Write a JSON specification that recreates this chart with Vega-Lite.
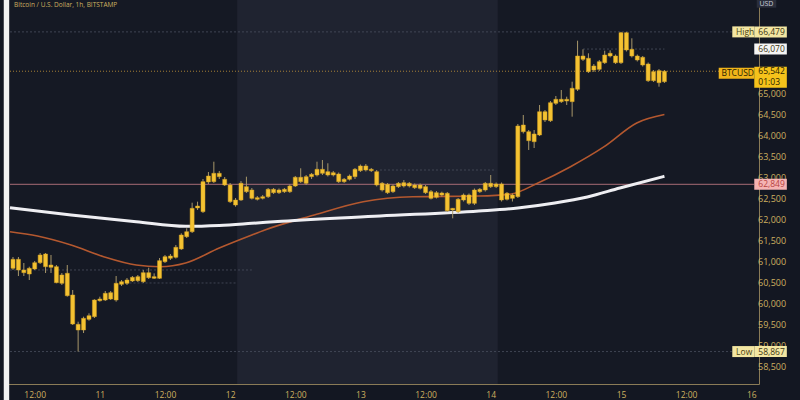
{
  "$schema": "https://vega.github.io/schema/vega-lite/v6.json",
  "width": 754,
  "height": 384,
  "autosize": {"type": "none"},
  "padding": {"left": 5, "top": 0, "right": 41, "bottom": 16},
  "background": "#131722",
  "config": {"view": {"stroke": null, "fill": "#151924"}, "font": "Open Sans"},
  "data": {"values": [{"one": 1}]},
  "datasets": {
    "candles": [
      {"t":8,"o":60850,"hi":61119,"lo":60809,"c":61064},
      {"t":9,"o":61064,"hi":61119,"lo":60666,"c":60809},
      {"t":10,"o":60809,"hi":60976,"lo":60666,"c":60745},
      {"t":11,"o":60714,"hi":60888,"lo":60571,"c":60850},
      {"t":12,"o":60833,"hi":61024,"lo":60809,"c":60983},
      {"t":13,"o":60983,"hi":61214,"lo":60952,"c":61167},
      {"t":14,"o":61190,"hi":61214,"lo":60738,"c":60888},
      {"t":15,"o":60928,"hi":61167,"lo":60738,"c":60874},
      {"t":16,"o":60888,"hi":60928,"lo":60493,"c":60507},
      {"t":17,"o":60493,"hi":60738,"lo":60452,"c":60690},
      {"t":18,"o":60731,"hi":60928,"lo":60174,"c":60197},
      {"t":19,"o":60214,"hi":60333,"lo":59500,"c":59524},
      {"t":20,"o":59516,"hi":59578,"lo":58867,"c":59381},
      {"t":21,"o":59381,"hi":59698,"lo":59309,"c":59659},
      {"t":22,"o":59635,"hi":59778,"lo":59602,"c":59721},
      {"t":23,"o":59698,"hi":60112,"lo":59666,"c":60095},
      {"t":24,"o":60078,"hi":60174,"lo":60055,"c":60119},
      {"t":25,"o":60095,"hi":60309,"lo":60071,"c":60255},
      {"t":26,"o":60269,"hi":60309,"lo":60095,"c":60119},
      {"t":27,"o":60095,"hi":60666,"lo":60055,"c":60493},
      {"t":28,"o":60469,"hi":60571,"lo":60428,"c":60531},
      {"t":29,"o":60493,"hi":60619,"lo":60452,"c":60571},
      {"t":30,"o":60548,"hi":60666,"lo":60524,"c":60635},
      {"t":31,"o":60555,"hi":60690,"lo":60524,"c":60650},
      {"t":32,"o":60531,"hi":60809,"lo":60500,"c":60745},
      {"t":33,"o":60745,"hi":60864,"lo":60595,"c":60626},
      {"t":34,"o":60650,"hi":60730,"lo":60595,"c":60612},
      {"t":35,"o":60612,"hi":61095,"lo":60595,"c":61031},
      {"t":36,"o":61007,"hi":61167,"lo":60976,"c":61126},
      {"t":37,"o":61088,"hi":61190,"lo":61048,"c":61143},
      {"t":38,"o":61112,"hi":61405,"lo":61083,"c":61350},
      {"t":39,"o":61310,"hi":61683,"lo":61286,"c":61643},
      {"t":40,"o":61602,"hi":61802,"lo":61571,"c":61721},
      {"t":41,"o":61721,"hi":62412,"lo":61690,"c":62278},
      {"t":42,"o":62286,"hi":62436,"lo":62238,"c":62333},
      {"t":43,"o":62198,"hi":62976,"lo":62167,"c":62912},
      {"t":44,"o":62905,"hi":63143,"lo":62857,"c":63047},
      {"t":45,"o":62912,"hi":63388,"lo":62881,"c":63112},
      {"t":46,"o":63112,"hi":63167,"lo":62976,"c":63031},
      {"t":47,"o":62969,"hi":63024,"lo":62810,"c":62833},
      {"t":48,"o":62833,"hi":62881,"lo":62405,"c":62436},
      {"t":49,"o":62476,"hi":62524,"lo":62317,"c":62357},
      {"t":50,"o":62476,"hi":62928,"lo":62452,"c":62874},
      {"t":51,"o":62793,"hi":63031,"lo":62643,"c":62674},
      {"t":52,"o":62714,"hi":62762,"lo":62488,"c":62516},
      {"t":53,"o":62531,"hi":62571,"lo":62464,"c":62493},
      {"t":54,"o":62516,"hi":62595,"lo":62488,"c":62555},
      {"t":55,"o":62555,"hi":62762,"lo":62524,"c":62731},
      {"t":56,"o":62731,"hi":62762,"lo":62619,"c":62650},
      {"t":57,"o":62650,"hi":62750,"lo":62619,"c":62714},
      {"t":58,"o":62674,"hi":62762,"lo":62643,"c":62731},
      {"t":59,"o":62674,"hi":62845,"lo":62643,"c":62809},
      {"t":60,"o":62809,"hi":63048,"lo":62786,"c":63017},
      {"t":61,"o":63017,"hi":63231,"lo":62881,"c":62912},
      {"t":62,"o":62874,"hi":63071,"lo":62833,"c":63031},
      {"t":63,"o":63031,"hi":63119,"lo":62976,"c":63088},
      {"t":64,"o":63071,"hi":63388,"lo":63036,"c":63207},
      {"t":65,"o":63207,"hi":63428,"lo":63071,"c":63112},
      {"t":66,"o":63150,"hi":63350,"lo":63036,"c":63071},
      {"t":67,"o":63071,"hi":63167,"lo":63036,"c":63126},
      {"t":68,"o":63095,"hi":63131,"lo":62881,"c":62912},
      {"t":69,"o":62912,"hi":63000,"lo":62881,"c":62969},
      {"t":70,"o":62969,"hi":63083,"lo":62940,"c":63047},
      {"t":71,"o":63031,"hi":63238,"lo":62976,"c":63207},
      {"t":72,"o":63174,"hi":63321,"lo":63143,"c":63286},
      {"t":73,"o":63286,"hi":63333,"lo":63155,"c":63190},
      {"t":74,"o":63207,"hi":63238,"lo":63143,"c":63174},
      {"t":75,"o":63150,"hi":63190,"lo":62798,"c":62833},
      {"t":76,"o":62874,"hi":62905,"lo":62678,"c":62714},
      {"t":77,"o":62850,"hi":62881,"lo":62619,"c":62650},
      {"t":78,"o":62674,"hi":62845,"lo":62643,"c":62809},
      {"t":79,"o":62793,"hi":62905,"lo":62762,"c":62874},
      {"t":80,"o":62888,"hi":62952,"lo":62774,"c":62809},
      {"t":81,"o":62809,"hi":62905,"lo":62774,"c":62874},
      {"t":82,"o":62833,"hi":62869,"lo":62738,"c":62769},
      {"t":83,"o":62833,"hi":62869,"lo":62726,"c":62755},
      {"t":84,"o":62793,"hi":62833,"lo":62619,"c":62650},
      {"t":85,"o":62674,"hi":62714,"lo":62488,"c":62516},
      {"t":86,"o":62540,"hi":62690,"lo":62512,"c":62650},
      {"t":87,"o":62643,"hi":62674,"lo":62555,"c":62595},
      {"t":88,"o":62636,"hi":62667,"lo":62190,"c":62221},
      {"t":89,"o":62238,"hi":62286,"lo":62040,"c":62278},
      {"t":90,"o":62198,"hi":62524,"lo":62167,"c":62493},
      {"t":91,"o":62476,"hi":62631,"lo":62440,"c":62595},
      {"t":92,"o":62595,"hi":62631,"lo":62357,"c":62397},
      {"t":93,"o":62397,"hi":62750,"lo":62357,"c":62714},
      {"t":94,"o":62674,"hi":62762,"lo":62643,"c":62731},
      {"t":95,"o":62714,"hi":62905,"lo":62678,"c":62874},
      {"t":96,"o":62874,"hi":63071,"lo":62762,"c":62793},
      {"t":97,"o":62793,"hi":62893,"lo":62762,"c":62857},
      {"t":98,"o":62857,"hi":62893,"lo":62440,"c":62476},
      {"t":99,"o":62493,"hi":62667,"lo":62464,"c":62636},
      {"t":100,"o":62595,"hi":62631,"lo":62440,"c":62516},
      {"t":101,"o":62555,"hi":64286,"lo":62524,"c":64238},
      {"t":102,"o":64262,"hi":64500,"lo":64060,"c":64102},
      {"t":103,"o":64102,"hi":64143,"lo":63667,"c":63888},
      {"t":104,"o":64048,"hi":64143,"lo":63714,"c":63864},
      {"t":105,"o":64024,"hi":64738,"lo":64000,"c":64578},
      {"t":106,"o":64578,"hi":64619,"lo":64333,"c":64381},
      {"t":107,"o":64364,"hi":64833,"lo":64333,"c":64793},
      {"t":108,"o":64778,"hi":64952,"lo":64738,"c":64874},
      {"t":109,"o":64874,"hi":65095,"lo":64786,"c":64817},
      {"t":110,"o":64833,"hi":64936,"lo":64738,"c":64874},
      {"t":111,"o":64817,"hi":65293,"lo":64460,"c":65136},
      {"t":112,"o":65112,"hi":66269,"lo":65071,"c":65905},
      {"t":113,"o":65905,"hi":66064,"lo":65786,"c":65826},
      {"t":114,"o":65850,"hi":65969,"lo":65500,"c":65531},
      {"t":115,"o":65571,"hi":65714,"lo":65524,"c":65667},
      {"t":116,"o":65588,"hi":65810,"lo":65548,"c":65769},
      {"t":117,"o":65745,"hi":66031,"lo":65714,"c":65928},
      {"t":118,"o":65905,"hi":66040,"lo":65869,"c":65969},
      {"t":119,"o":65905,"hi":65940,"lo":65714,"c":65745},
      {"t":120,"o":65745,"hi":66479,"lo":65714,"c":66459},
      {"t":121,"o":66459,"hi":66479,"lo":66012,"c":66048},
      {"t":122,"o":66064,"hi":66326,"lo":65869,"c":65905},
      {"t":123,"o":65905,"hi":65940,"lo":65774,"c":65810},
      {"t":124,"o":65874,"hi":65905,"lo":65655,"c":65690},
      {"t":125,"o":65714,"hi":65750,"lo":65286,"c":65317},
      {"t":126,"o":65317,"hi":65571,"lo":65286,"c":65531},
      {"t":127,"o":65555,"hi":65595,"lo":65174,"c":65269},
      {"t":128,"o":65293,"hi":65571,"lo":65262,"c":65542}
    ],
    "maSlow": [
      {"t":7.45,"v":62293},{"t":18.7,"v":62119},{"t":30.7,"v":61960},{"t":39.8,"v":61850},
      {"t":46,"v":61870},{"t":52,"v":61920},{"t":57.5,"v":61970},{"t":75.6,"v":62095},
      {"t":93.8,"v":62214},{"t":101,"v":62286},{"t":107.8,"v":62405},{"t":113.8,"v":62548},
      {"t":119.8,"v":62762},{"t":128,"v":63040}
    ],
    "maFast": [
      {"t":7.45,"v":61721},{"t":12.5,"v":61619},{"t":18.7,"v":61405},{"t":24.7,"v":61126},
      {"t":30.7,"v":60928},{"t":35.1,"v":60888},{"t":39.8,"v":60976},{"t":46,"v":61333},
      {"t":52,"v":61643},{"t":54.4,"v":61762},{"t":63.5,"v":62119},{"t":72.5,"v":62436},
      {"t":81.6,"v":62555},{"t":93.8,"v":62571},{"t":99.8,"v":62620},{"t":104.7,"v":62881},
      {"t":110.7,"v":63269},{"t":116.9,"v":63745},{"t":122.9,"v":64310},{"t":128,"v":64510}
    ],
    "faint": [
      {"p":66479,"t0":7.45,"t1":144.5},
      {"p":66070,"t0":113,"t1":128},
      {"p":58867,"t0":7.45,"t1":144.5},
      {"p":60810,"t0":7.45,"t1":52},
      {"p":60500,"t0":28,"t1":49},
      {"p":63190,"t0":75.6,"t1":97}
    ],
    "yticks": [
      {"p":58500},{"p":59000},{"p":59500},{"p":60000},{"p":60500},{"p":61000},{"p":61500},
      {"p":62000},{"p":62500},{"p":63000},{"p":63500},{"p":64000},{"p":64500},{"p":65000}
    ],
    "tags": [
      {"tag":"High","p":66479,"v":"66,479"},
      {"tag":"Mark","p":66070,"v":"66,070"},
      {"tag":"Prev","p":62849,"v":"62,849"},
      {"tag":"Low","p":58867,"v":"58,867"}
    ]
  },
  "layer": [
    {
      "mark": {"type": "rect", "color": "#1f2330"},
      "encoding": {
        "x": {"datum": 49.3, "type": "quantitative", "scale": {"domain": [7.45, 144.5], "nice": false, "zero": false},
          "axis": {"orient": "bottom", "values": [12, 24, 36, 48, 60, 72, 84, 96, 108, 120, 132, 144],
            "labelExpr": "datum.value % 24 == 0 ? '' + (10 + datum.value / 24) : '12:00'",
            "title": null, "grid": false, "ticks": false, "domainColor": "#8a7b57",
            "labelColor": "#cdb060", "labelFontSize": 8.5, "labelPadding": 6, "labelFlush": false, "labelFont": "Open Sans"}},
        "x2": {"datum": 97.3},
        "y": {"datum": 67238, "type": "quantitative", "scale": {"domain": [58095, 67238], "nice": false, "zero": false},
          "axis": {"orient": "right", "values": [60000], "labels": false,
            "title": null, "grid": false, "ticks": false, "domainColor": "#8a7b57"}},
        "y2": {"datum": 58095}
      }
    },
    {
      "mark": {"type": "rect", "color": "#f2f2f2", "clip": false},
      "encoding": {
        "x": {"datum": 6.3, "type": "quantitative", "scale": {"domain": [7.45, 144.5], "nice": false, "zero": false}},
        "x2": {"datum": 7.3},
        "y": {"datum": 67400, "type": "quantitative", "scale": {"domain": [58095, 67238], "nice": false, "zero": false}},
        "y2": {"datum": 57600}
      }
    },
    {
      "data": {"name": "yticks"},
      "mark": {"type": "text", "align": "left", "baseline": "middle", "fontSize": 9, "font": "Open Sans", "color": "#cdb060", "clip": false},
      "encoding": {
        "x": {"datum": 145.25, "type": "quantitative", "scale": {"domain": [7.45, 144.5], "nice": false, "zero": false}},
        "y": {"field": "p", "type": "quantitative", "scale": {"domain": [58095, 67238], "nice": false, "zero": false}},
        "text": {"field": "p", "type": "quantitative", "format": ",d"}
      }
    },
    {
      "data": {"name": "faint"},
      "mark": {"type": "rule", "color": "#4a4f5e", "strokeWidth": 1, "strokeDash": [2, 2], "opacity": 0.8},
      "encoding": {
        "x": {"field": "t0", "type": "quantitative", "scale": {"domain": [7.45, 144.5], "nice": false, "zero": false}},
        "x2": {"field": "t1"},
        "y": {"field": "p", "type": "quantitative", "scale": {"domain": [58095, 67238], "nice": false, "zero": false}}
      }
    },
    {
      "mark": {"type": "rule", "color": "#b0707a", "strokeWidth": 1.2, "opacity": 0.75},
      "encoding": {
        "x": {"datum": 7.45, "type": "quantitative", "scale": {"domain": [7.45, 144.5], "nice": false, "zero": false}},
        "x2": {"datum": 144.5},
        "y": {"datum": 62849, "type": "quantitative", "scale": {"domain": [58095, 67238], "nice": false, "zero": false}}
      }
    },
    {
      "mark": {"type": "rule", "color": "#c99a3a", "strokeWidth": 1, "strokeDash": [1, 2], "opacity": 0.8},
      "encoding": {
        "x": {"datum": 7.45, "type": "quantitative", "scale": {"domain": [7.45, 144.5], "nice": false, "zero": false}},
        "x2": {"datum": 144.5},
        "y": {"datum": 65542, "type": "quantitative", "scale": {"domain": [58095, 67238], "nice": false, "zero": false}}
      }
    },
    {
      "data": {"name": "maFast"},
      "mark": {"type": "line", "color": "#b4582f", "strokeWidth": 1.6, "interpolate": "monotone"},
      "encoding": {
        "x": {"field": "t", "type": "quantitative", "scale": {"domain": [7.45, 144.5], "nice": false, "zero": false}},
        "y": {"field": "v", "type": "quantitative", "scale": {"domain": [58095, 67238], "nice": false, "zero": false}}
      }
    },
    {
      "data": {"name": "maSlow"},
      "mark": {"type": "line", "color": "#eeeef2", "strokeWidth": 3, "interpolate": "monotone"},
      "encoding": {
        "x": {"field": "t", "type": "quantitative", "scale": {"domain": [7.45, 144.5], "nice": false, "zero": false}},
        "y": {"field": "v", "type": "quantitative", "scale": {"domain": [58095, 67238], "nice": false, "zero": false}}
      }
    },
    {
      "data": {"name": "candles"},
      "mark": {"type": "rule", "color": "#a8976a", "strokeWidth": 1},
      "encoding": {
        "x": {"field": "t", "type": "quantitative", "scale": {"domain": [7.45, 144.5], "nice": false, "zero": false}},
        "y": {"field": "lo", "type": "quantitative", "scale": {"domain": [58095, 67238], "nice": false, "zero": false}},
        "y2": {"field": "hi"}
      }
    },
    {
      "data": {"name": "candles"},
      "mark": {"type": "bar", "size": 4, "color": "#f4c232", "stroke": "#d9a521", "strokeWidth": 0.5},
      "encoding": {
        "x": {"field": "t", "type": "quantitative", "scale": {"domain": [7.45, 144.5], "nice": false, "zero": false}},
        "y": {"field": "o", "type": "quantitative", "scale": {"domain": [58095, 67238], "nice": false, "zero": false}},
        "y2": {"field": "c"}
      }
    },
    {
      "data": {"name": "tags"},
      "mark": {"type": "rule", "strokeWidth": 11, "clip": false},
      "encoding": {
        "x": {"datum": 144.55, "type": "quantitative", "scale": {"domain": [7.45, 144.5], "nice": false, "zero": false}},
        "x2": {"datum": 150.55},
        "y": {"field": "p", "type": "quantitative", "scale": {"domain": [58095, 67238], "nice": false, "zero": false}},
        "color": {"condition": [{"test": "datum.tag == 'Mark'", "value": "#f4f4f4"}, {"test": "datum.tag == 'Prev'", "value": "#f5b3b3"}], "value": "#f3e6a2"}
      }
    },
    {
      "data": {"name": "tags"},
      "transform": [{"filter": "datum.tag == 'High' || datum.tag == 'Low'"}],
      "mark": {"type": "rule", "strokeWidth": 11, "color": "#f3e6a2", "clip": false},
      "encoding": {
        "x": {"datum": 140.5, "type": "quantitative", "scale": {"domain": [7.45, 144.5], "nice": false, "zero": false}},
        "x2": {"datum": 144.55},
        "y": {"field": "p", "type": "quantitative", "scale": {"domain": [58095, 67238], "nice": false, "zero": false}}
      }
    },
    {
      "mark": {"type": "rule", "strokeWidth": 11, "color": "#f0b41a", "yOffset": 2, "clip": false},
      "encoding": {
        "x": {"datum": 138.0, "type": "quantitative", "scale": {"domain": [7.45, 144.5], "nice": false, "zero": false}},
        "x2": {"datum": 144.55},
        "y": {"datum": 65542, "type": "quantitative", "scale": {"domain": [58095, 67238], "nice": false, "zero": false}}
      }
    },
    {
      "mark": {"type": "rule", "strokeWidth": 21, "color": "#f5c21b", "yOffset": 6, "clip": false},
      "encoding": {
        "x": {"datum": 144.55, "type": "quantitative", "scale": {"domain": [7.45, 144.5], "nice": false, "zero": false}},
        "x2": {"datum": 150.55},
        "y": {"datum": 65542, "type": "quantitative", "scale": {"domain": [58095, 67238], "nice": false, "zero": false}}
      }
    },
    {
      "mark": {"type": "rule", "strokeWidth": 8, "color": "#2a2e3b", "clip": false},
      "encoding": {
        "x": {"datum": 145.0, "type": "quantitative", "scale": {"domain": [7.45, 144.5], "nice": false, "zero": false}},
        "x2": {"datum": 148.6},
        "y": {"datum": 67150, "type": "quantitative", "scale": {"domain": [58095, 67238], "nice": false, "zero": false}}
      }
    },
    {
      "data": {"name": "tags"},
      "mark": {"type": "text", "align": "left", "baseline": "middle", "fontSize": 8.5, "font": "Open Sans", "clip": false},
      "encoding": {
        "x": {"datum": 145.3, "type": "quantitative", "scale": {"domain": [7.45, 144.5], "nice": false, "zero": false}},
        "y": {"field": "p", "type": "quantitative", "scale": {"domain": [58095, 67238], "nice": false, "zero": false}},
        "text": {"field": "v"},
        "color": {"condition": {"test": "datum.tag == 'Prev'", "value": "#b8433f"}, "value": "#3d3512"}
      }
    },
    {
      "data": {"name": "tags"},
      "transform": [{"filter": "datum.tag == 'High' || datum.tag == 'Low'"}],
      "mark": {"type": "text", "align": "left", "baseline": "middle", "fontSize": 8.5, "font": "Open Sans", "color": "#4a3f10", "clip": false},
      "encoding": {
        "x": {"datum": 141.2, "type": "quantitative", "scale": {"domain": [7.45, 144.5], "nice": false, "zero": false}},
        "y": {"field": "p", "type": "quantitative", "scale": {"domain": [58095, 67238], "nice": false, "zero": false}},
        "text": {"field": "tag"}
      }
    },
    {
      "mark": {"type": "text", "align": "left", "baseline": "middle", "fontSize": 8.5, "font": "Open Sans", "color": "#2a2200", "yOffset": 2, "clip": false},
      "encoding": {
        "x": {"datum": 138.5, "type": "quantitative", "scale": {"domain": [7.45, 144.5], "nice": false, "zero": false}},
        "y": {"datum": 65542, "type": "quantitative", "scale": {"domain": [58095, 67238], "nice": false, "zero": false}},
        "text": {"value": "BTCUSD"}
      }
    },
    {
      "mark": {"type": "text", "align": "left", "baseline": "middle", "fontSize": 8.5, "font": "Open Sans", "color": "#2a2200", "clip": false},
      "encoding": {
        "x": {"datum": 145.3, "type": "quantitative", "scale": {"domain": [7.45, 144.5], "nice": false, "zero": false}},
        "y": {"datum": 65542, "type": "quantitative", "scale": {"domain": [58095, 67238], "nice": false, "zero": false}},
        "text": {"value": "65,542"}
      }
    },
    {
      "mark": {"type": "text", "align": "left", "baseline": "middle", "fontSize": 8.5, "font": "Open Sans", "color": "#2a2200", "yOffset": 11, "clip": false},
      "encoding": {
        "x": {"datum": 145.3, "type": "quantitative", "scale": {"domain": [7.45, 144.5], "nice": false, "zero": false}},
        "y": {"datum": 65542, "type": "quantitative", "scale": {"domain": [58095, 67238], "nice": false, "zero": false}},
        "text": {"value": "01:03"}
      }
    },
    {
      "mark": {"type": "text", "align": "left", "baseline": "middle", "fontSize": 7, "font": "Open Sans", "color": "#c8ccd8", "clip": false},
      "encoding": {
        "x": {"datum": 145.5, "type": "quantitative", "scale": {"domain": [7.45, 144.5], "nice": false, "zero": false}},
        "y": {"datum": 67150, "type": "quantitative", "scale": {"domain": [58095, 67238], "nice": false, "zero": false}},
        "text": {"value": "USD"}
      }
    },
    {
      "mark": {"type": "text", "align": "left", "baseline": "top", "fontSize": 6.5, "font": "Open Sans", "color": "#cdb060", "clip": false},
      "encoding": {
        "x": {"datum": 8.2, "type": "quantitative", "scale": {"domain": [7.45, 144.5], "nice": false, "zero": false}},
        "y": {"datum": 67200, "type": "quantitative", "scale": {"domain": [58095, 67238], "nice": false, "zero": false}},
        "text": {"value": "Bitcoin / U.S. Dollar, 1h, BITSTAMP"}
      }
    }
  ]
}
